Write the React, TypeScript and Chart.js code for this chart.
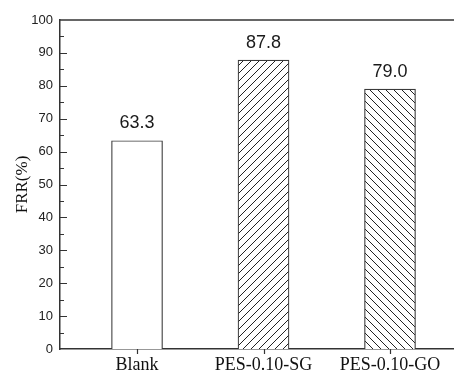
import React, { useEffect, useRef } from "react";
import { Chart, registerables } from "chart.js";

Chart.register(...registerables);

const categories = ["Blank", "PES-0.10-SG", "PES-0.10-GO"];
const positions = [1, 2, 3];
const frrValues = [63.3, 87.8, 79.0];
const valueLabels = ["63.3", "87.8", "79.0"];
const yTicks = [0, 10, 20, 30, 40, 50, 60, 70, 80, 90, 100];
const yMinorTicks = [5, 15, 25, 35, 45, 55, 65, 75, 85, 95];
const hatchStyles = ["none", "forward", "backward"];

function makeFill(style: string): any {
  if (style === "none") return "#ffffff";
  const size = 8;
  const c = document.createElement("canvas");
  c.width = size;
  c.height = size;
  const ctx = c.getContext("2d")!;
  ctx.fillStyle = "#ffffff";
  ctx.fillRect(0, 0, size, size);
  ctx.strokeStyle = "#222222";
  ctx.lineWidth = 1;
  ctx.beginPath();
  if (style === "forward") {
    ctx.moveTo(-1, 1); ctx.lineTo(1, -1);
    ctx.moveTo(0, size); ctx.lineTo(size, 0);
    ctx.moveTo(size - 1, size + 1); ctx.lineTo(size + 1, size - 1);
  } else {
    ctx.moveTo(-1, size - 1); ctx.lineTo(1, size + 1);
    ctx.moveTo(0, 0); ctx.lineTo(size, size);
    ctx.moveTo(size - 1, -1); ctx.lineTo(size + 1, 1);
  }
  ctx.stroke();
  return ctx.createPattern(c, "repeat");
}

const framePlugin = {
  id: "frameAndLabels",
  afterDraw(chart: any) {
    const { ctx, chartArea, scales } = chart;
    const y = scales.y;
    const x = scales.x;
    ctx.save();
    ctx.strokeStyle = "#333333";
    ctx.lineWidth = 1.5;
    ctx.beginPath();
    ctx.moveTo(chartArea.left, chartArea.top);
    ctx.lineTo(chartArea.right, chartArea.top);
    ctx.stroke();
    ctx.lineWidth = 1.2;
    ctx.beginPath();
    yTicks.forEach((v) => {
      if (v === 0 || v === 100) return;
      const py = Math.round(y.getPixelForValue(v)) + 0.5;
      ctx.moveTo(chartArea.left, py);
      ctx.lineTo(chartArea.left + 7, py);
    });
    yMinorTicks.forEach((v) => {
      const py = Math.round(y.getPixelForValue(v)) + 0.5;
      ctx.moveTo(chartArea.left, py);
      ctx.lineTo(chartArea.left + 4, py);
    });
    positions.forEach((p) => {
      const px = Math.round(x.getPixelForValue(p)) + 0.5;
      ctx.moveTo(px, chartArea.bottom);
      ctx.lineTo(px, chartArea.bottom + 5);
    });
    ctx.stroke();
    ctx.fillStyle = "#1a1a1a";
    ctx.font = "18px 'Liberation Sans', Arial, sans-serif";
    ctx.textAlign = "center";
    ctx.textBaseline = "alphabetic";
    const meta = chart.getDatasetMeta(0);
    meta.data.forEach((bar: any, i: number) => {
      ctx.fillText(valueLabels[i], bar.x, bar.y - 12.5);
    });
    ctx.restore();
  },
};

export default function App() {
  const ref = useRef<HTMLCanvasElement>(null);
  useEffect(() => {
    const canvas = ref.current!;
    const fills = hatchStyles.map((s) => makeFill(s));
    const chart = new Chart(canvas, {
      type: "bar",
      data: {
        datasets: [
          {
            data: positions.map((p, i) => ({ x: p, y: frrValues[i] })),
            backgroundColor: fills,
            borderColor: "#3a3a3a",
            borderWidth: 1.2,
            barThickness: 51,
          } as any,
        ],
      },
      options: {
        responsive: false,
        devicePixelRatio: 1,
        animation: false,
        layout: { padding: { top: 20, right: 0, left: 0, bottom: 0 } },
        plugins: { legend: { display: false }, tooltip: { enabled: false } },
        scales: {
          x: {
            type: "linear",
            offset: false,
            min: 0.391,
            max: 3.506,
            afterBuildTicks: (scale: any) => {
              scale.ticks = positions.map((v) => ({ value: v }));
            },
            afterFit: (scale: any) => {
              scale.height = 26;
            },
            grid: { display: false, drawTicks: false, offset: false },
            border: { display: true, color: "#333333", width: 1.5 },
            ticks: {
              autoSkip: false,
              maxRotation: 0,
              padding: 5,
              color: "#111111",
              font: { family: "'Liberation Serif', 'Times New Roman', serif", size: 18 },
              callback: (v: any) => {
                const i = positions.indexOf(Number(v));
                return i >= 0 ? categories[i] : "";
              },
            },
          },
          y: {
            min: 0,
            max: 100,
            afterBuildTicks: (scale: any) => {
              scale.ticks = yTicks.map((v) => ({ value: v }));
            },
            afterFit: (scale: any) => {
              scale.width = 60;
            },
            grid: { display: false, drawTicks: false },
            border: { display: true, color: "#333333", width: 1.5 },
            ticks: {
              padding: 7,
              color: "#222222",
              font: { family: "'Liberation Sans', Arial, sans-serif", size: 13 },
            },
            title: {
              display: true,
              text: "FRR(%)",
              color: "#111111",
              padding: { top: 12, bottom: 0 },
              font: { family: "'Liberation Serif', 'Times New Roman', serif", size: 17 },
            },
          },
        },
      },
      plugins: [framePlugin],
    });
    return () => chart.destroy();
  }, []);
  return (
    <div style={{ position: "fixed", left: 0, top: 0, width: 454, height: 375, overflow: "hidden", background: "#fff" }}>
      <canvas ref={ref} width={454} height={375} style={{ display: "block" }} />
    </div>
  );
}
